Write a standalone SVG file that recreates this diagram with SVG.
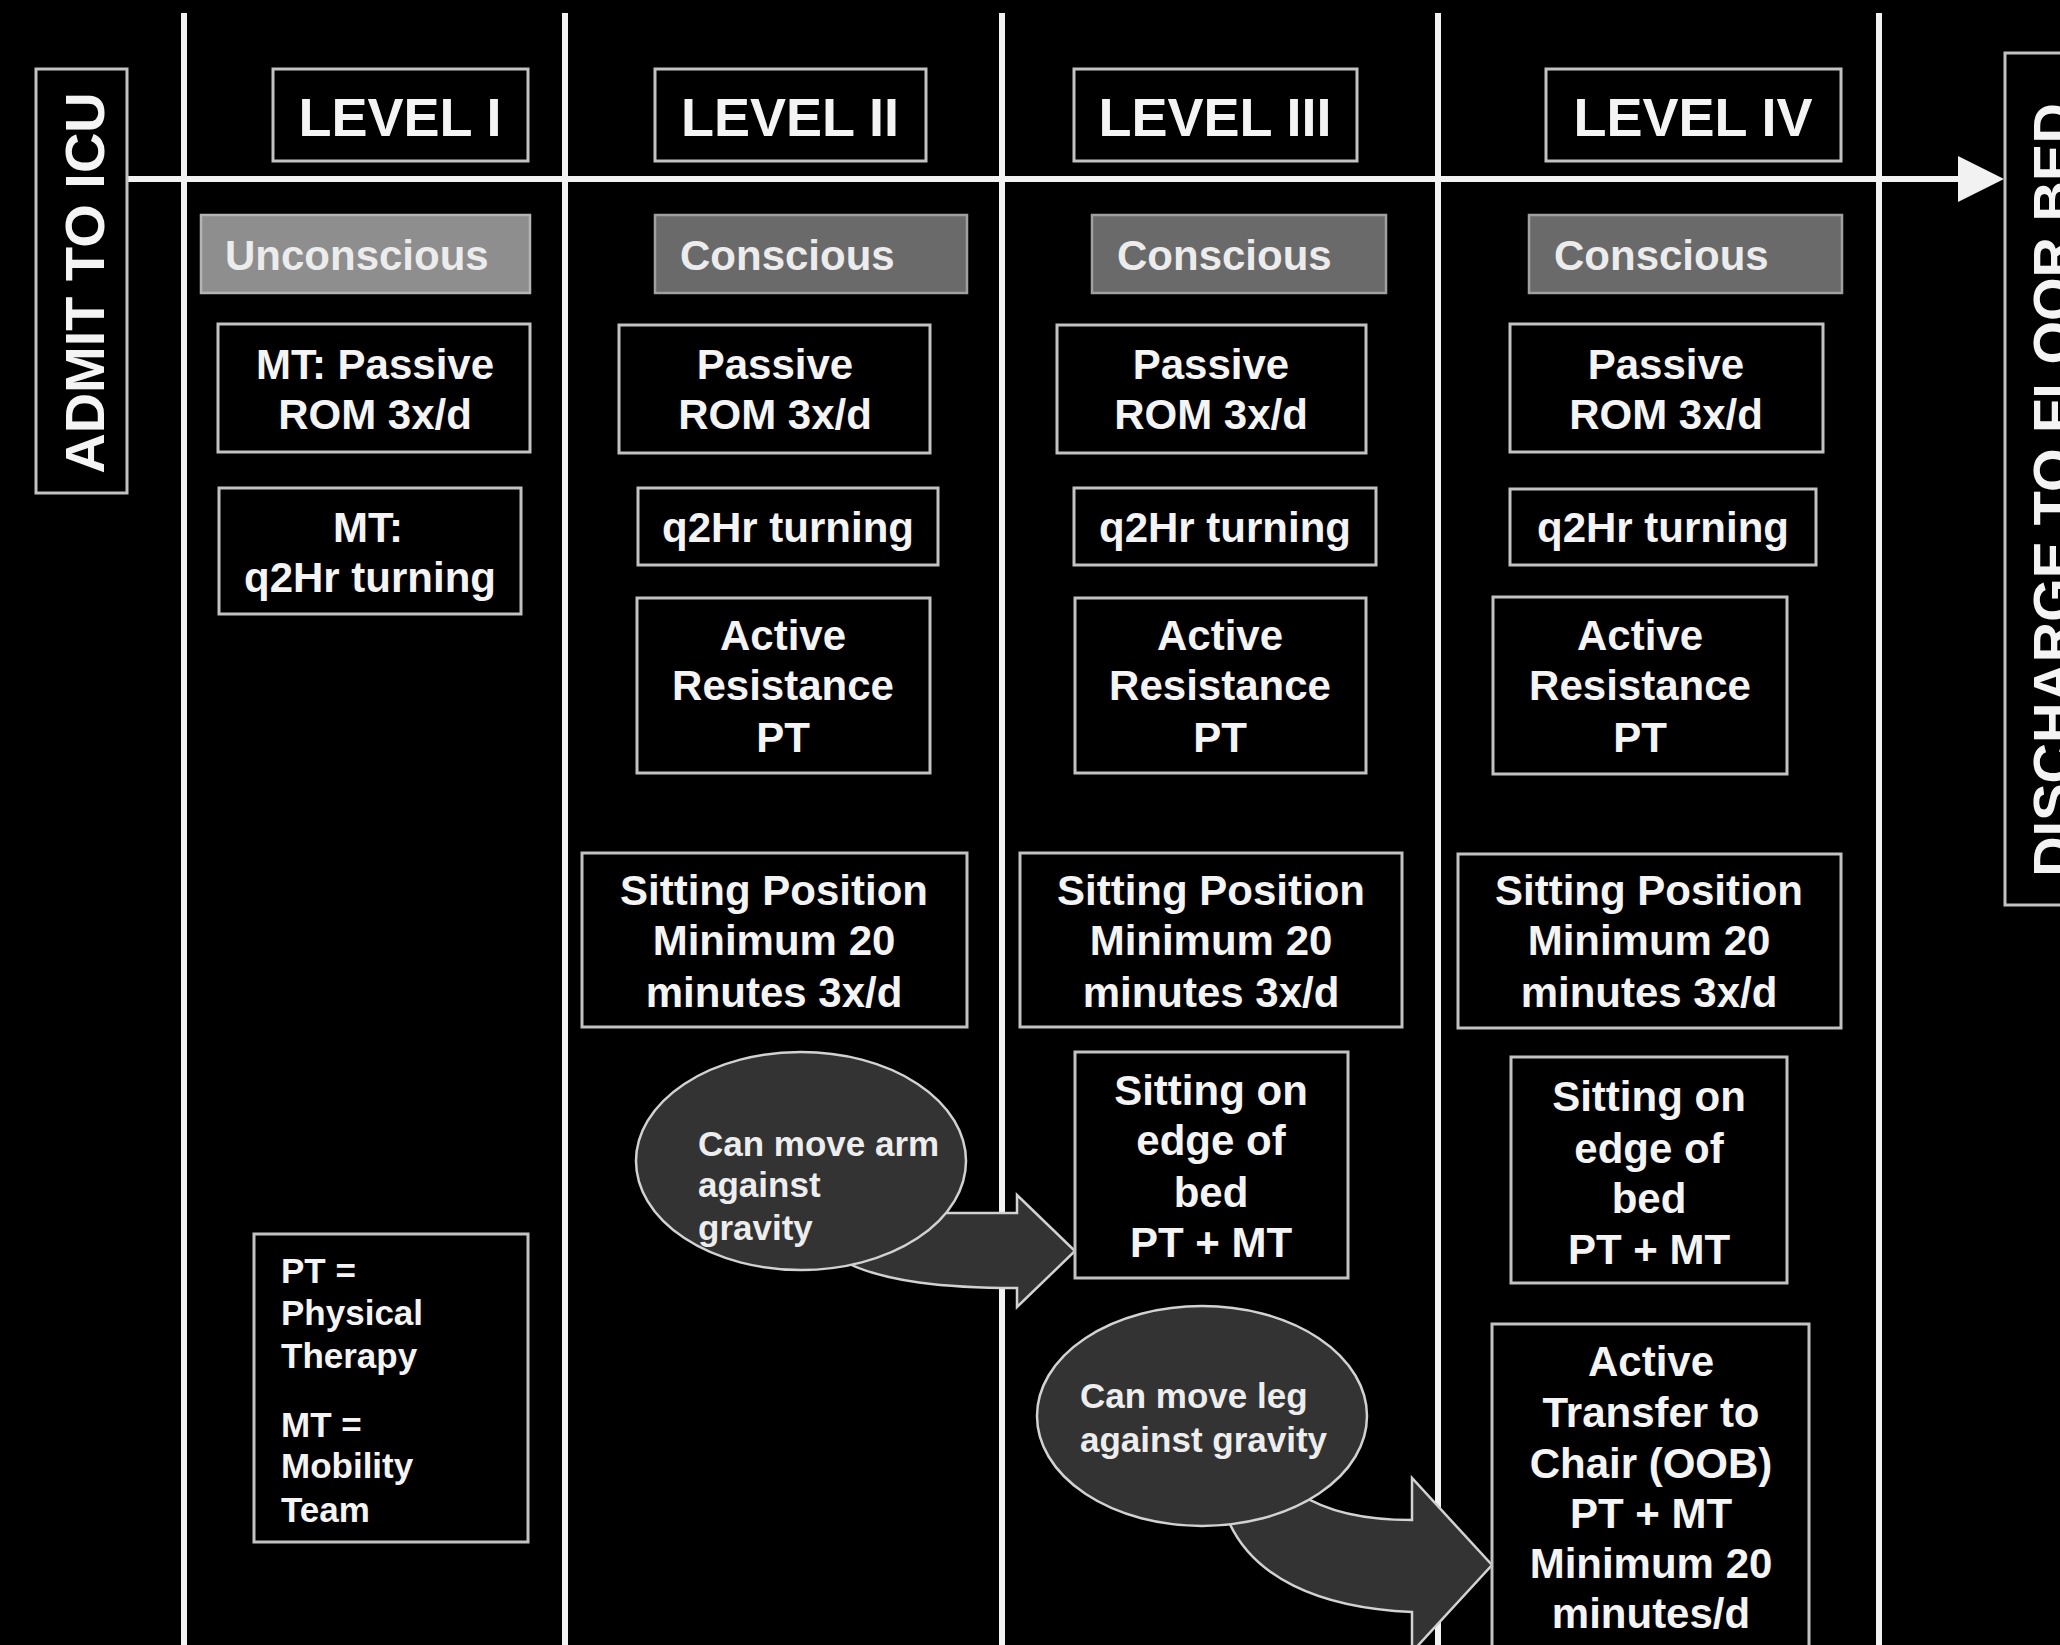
<svg xmlns="http://www.w3.org/2000/svg" width="2060" height="1645" viewBox="0 0 2060 1645">
  <style>
    .lane { stroke: #f2f2f2; stroke-width: 6; fill: none; }
    .box { fill: #000; stroke: #c2c2c2; stroke-width: 3; }
    .state { fill: #6a6a6a; stroke: #a0a0a0; stroke-width: 2.5; }
    .state-light { fill: #8e8e8e; stroke: #b4b4b4; stroke-width: 2.5; }
    .bubble { fill: #333; stroke: #d2d2d2; stroke-width: 2.5; }
    .t { font-family: "Liberation Sans", Arial, sans-serif; font-weight: bold; font-size: 42px; fill: #f4f4f4; text-anchor: middle; }
    .hdr { font-size: 54px; }
    .side { font-size: 56px; }
    .st { text-anchor: start; fill: #ececec; }
    .lg { font-size: 35px; text-anchor: start; }
    .bt { font-size: 35px; text-anchor: start; fill: #ededed; }
  </style>
  <defs>
    <marker id="head" markerUnits="userSpaceOnUse" markerWidth="48" markerHeight="48" refX="0" refY="24" orient="auto">
      <path d="M0,1 L46,24 L0,47 Z" fill="#f2f2f2"/>
    </marker>
  </defs>

  <rect width="2060" height="1645" fill="#000"/>

  <!-- swimlane separators -->
  <g id="lanes">
    <line class="lane" x1="184" y1="13" x2="184" y2="1645"/>
    <line class="lane" x1="565" y1="13" x2="565" y2="1645"/>
    <line class="lane" x1="1002" y1="13" x2="1002" y2="1645"/>
    <line class="lane" x1="1438" y1="13" x2="1438" y2="1645"/>
    <line class="lane" x1="1879" y1="13" x2="1879" y2="1645"/>
  </g>

  <!-- timeline and transition arrows -->
  <g id="connectors">
    <line x1="127" y1="179" x2="1958" y2="179" stroke="#f2f2f2" stroke-width="6" marker-end="url(#head)"/>
    <path id="arm-arrow" class="bubble" d="M930,1213 L1017,1213 L1017,1195 L1075,1251 L1017,1307 L1017,1288 C945,1288 885,1282 845,1262 Z"/>
    <path id="leg-arrow" class="bubble" d="M1300,1494 C1330,1514 1370,1520 1412,1520 L1412,1478 L1492,1565 L1412,1652 L1412,1612 C1320,1608 1250,1578 1226,1515 Z"/>
  </g>

  <!-- entry / exit -->
  <g id="admit">
    <rect class="box" x="36" y="69" width="91" height="424"/>
    <text class="t side" transform="translate(104,283) rotate(-90)">ADMIT TO ICU</text>
  </g>
  <g id="discharge">
    <rect class="box" x="2005" y="53" width="80" height="852"/>
    <text class="t side" transform="translate(2072,490) rotate(-90)">DISCHARGE TO FLOOR BED</text>
  </g>

  <!-- level headers -->
  <g id="level-1"><rect class="box" x="273" y="69" width="255" height="92"/><text class="t hdr" x="400" y="136">LEVEL I</text></g>
  <g id="level-2"><rect class="box" x="655" y="69" width="271" height="92"/><text class="t hdr" x="790" y="136">LEVEL II</text></g>
  <g id="level-3"><rect class="box" x="1074" y="69" width="283" height="92"/><text class="t hdr" x="1215" y="136">LEVEL III</text></g>
  <g id="level-4"><rect class="box" x="1546" y="69" width="295" height="92"/><text class="t hdr" x="1693" y="136">LEVEL IV</text></g>

  <!-- consciousness state -->
  <g id="state-1"><rect class="state-light" x="201" y="215" width="329" height="78"/><text class="t st" x="225" y="270">Unconscious</text></g>
  <g id="state-2"><rect class="state" x="655" y="215" width="312" height="78"/><text class="t st" x="680" y="270">Conscious</text></g>
  <g id="state-3"><rect class="state" x="1092" y="215" width="294" height="78"/><text class="t st" x="1117" y="270">Conscious</text></g>
  <g id="state-4"><rect class="state" x="1529" y="215" width="313" height="78"/><text class="t st" x="1554" y="270">Conscious</text></g>

  <!-- level I -->
  <g id="l1-rom"><rect class="box" x="218" y="324" width="312" height="128"/>
    <text class="t" x="375" y="379">MT: Passive</text><text class="t" x="375" y="429">ROM 3x/d</text></g>
  <g id="l1-turn"><rect class="box" x="219" y="488" width="302" height="126"/>
    <text class="t" x="368" y="542">MT:</text><text class="t" x="370" y="592">q2Hr turning</text></g>
  <g id="legend"><rect class="box" x="254" y="1234" width="274" height="308"/>
    <text class="t lg" x="281" y="1283">PT =</text>
    <text class="t lg" x="281" y="1325">Physical</text>
    <text class="t lg" x="281" y="1368">Therapy</text>
    <text class="t lg" x="281" y="1437">MT =</text>
    <text class="t lg" x="281" y="1478">Mobility</text>
    <text class="t lg" x="281" y="1522">Team</text></g>

  <!-- level II -->
  <g id="l2-rom"><rect class="box" x="619" y="325" width="311" height="128"/>
    <text class="t" x="775" y="379">Passive</text><text class="t" x="775" y="429">ROM 3x/d</text></g>
  <g id="l2-turn"><rect class="box" x="638" y="488" width="300" height="77"/>
    <text class="t" x="788" y="542">q2Hr turning</text></g>
  <g id="l2-active"><rect class="box" x="637" y="598" width="293" height="175"/>
    <text class="t" x="783" y="650">Active</text><text class="t" x="783" y="700">Resistance</text><text class="t" x="783" y="752">PT</text></g>
  <g id="l2-sit"><rect class="box" x="582" y="853" width="385" height="174"/>
    <text class="t" x="774" y="905">Sitting Position</text><text class="t" x="774" y="955">Minimum 20</text><text class="t" x="774" y="1007">minutes 3x/d</text></g>
  <g id="arm-check"><ellipse class="bubble" cx="801" cy="1161" rx="165" ry="109"/>
    <text class="t bt" x="698" y="1156">Can move arm</text><text class="t bt" x="698" y="1197">against</text><text class="t bt" x="698" y="1240">gravity</text></g>

  <!-- level III -->
  <g id="l3-rom"><rect class="box" x="1057" y="325" width="309" height="128"/>
    <text class="t" x="1211" y="379">Passive</text><text class="t" x="1211" y="429">ROM 3x/d</text></g>
  <g id="l3-turn"><rect class="box" x="1074" y="488" width="302" height="77"/>
    <text class="t" x="1225" y="542">q2Hr turning</text></g>
  <g id="l3-active"><rect class="box" x="1075" y="598" width="291" height="175"/>
    <text class="t" x="1220" y="650">Active</text><text class="t" x="1220" y="700">Resistance</text><text class="t" x="1220" y="752">PT</text></g>
  <g id="l3-sit"><rect class="box" x="1020" y="853" width="382" height="174"/>
    <text class="t" x="1211" y="905">Sitting Position</text><text class="t" x="1211" y="955">Minimum 20</text><text class="t" x="1211" y="1007">minutes 3x/d</text></g>
  <g id="l3-edge"><rect class="box" x="1075" y="1052" width="273" height="226"/>
    <text class="t" x="1211" y="1105">Sitting on</text><text class="t" x="1211" y="1155">edge of</text><text class="t" x="1211" y="1207">bed</text><text class="t" x="1211" y="1257">PT + MT</text></g>
  <g id="leg-check"><ellipse class="bubble" cx="1202" cy="1416" rx="165" ry="110"/>
    <text class="t bt" x="1080" y="1408">Can move leg</text><text class="t bt" x="1080" y="1452">against gravity</text></g>

  <!-- level IV -->
  <g id="l4-rom"><rect class="box" x="1510" y="324" width="313" height="128"/>
    <text class="t" x="1666" y="379">Passive</text><text class="t" x="1666" y="429">ROM 3x/d</text></g>
  <g id="l4-turn"><rect class="box" x="1510" y="489" width="306" height="76"/>
    <text class="t" x="1663" y="542">q2Hr turning</text></g>
  <g id="l4-active"><rect class="box" x="1493" y="597" width="294" height="177"/>
    <text class="t" x="1640" y="650">Active</text><text class="t" x="1640" y="700">Resistance</text><text class="t" x="1640" y="752">PT</text></g>
  <g id="l4-sit"><rect class="box" x="1458" y="854" width="383" height="174"/>
    <text class="t" x="1649" y="905">Sitting Position</text><text class="t" x="1649" y="955">Minimum 20</text><text class="t" x="1649" y="1007">minutes 3x/d</text></g>
  <g id="l4-edge"><rect class="box" x="1511" y="1057" width="276" height="226"/>
    <text class="t" x="1649" y="1111">Sitting on</text><text class="t" x="1649" y="1163">edge of</text><text class="t" x="1649" y="1213">bed</text><text class="t" x="1649" y="1264">PT + MT</text></g>
  <g id="l4-transfer"><rect class="box" x="1492" y="1324" width="317" height="340"/>
    <text class="t" x="1651" y="1376">Active</text><text class="t" x="1651" y="1427">Transfer to</text><text class="t" x="1651" y="1478">Chair (OOB)</text><text class="t" x="1651" y="1528">PT + MT</text><text class="t" x="1651" y="1578">Minimum 20</text><text class="t" x="1651" y="1628">minutes/d</text></g>
</svg>
